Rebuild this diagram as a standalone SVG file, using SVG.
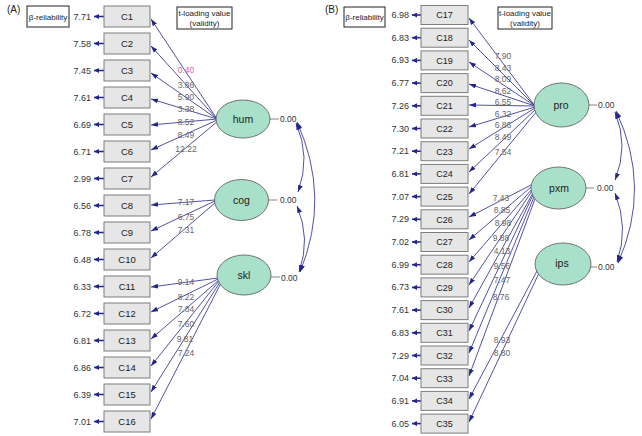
<svg xmlns="http://www.w3.org/2000/svg" width="642" height="436" viewBox="0 0 642 436">
<style>
text{font-family:"Liberation Sans",Arial,sans-serif}
.box{fill:#e6e6e6;stroke:#7d7d7d;stroke-width:1}
.lat{fill:#a9e0c9;stroke:#555;stroke-width:0.8}
.leg{fill:#fff;stroke:#222;stroke-width:1}
.lbl{font-size:9.5px;fill:#222;text-anchor:middle}
.lblb{font-size:9px;fill:#222;text-anchor:middle}
.rel{font-size:9px;fill:#333;text-anchor:end}
.ld{font-size:8.5px;fill:#666;text-anchor:middle}
.pk{fill:#e4619a}
.nl{font-size:10.5px;fill:#222;text-anchor:middle}
.zz{font-size:8.5px;fill:#333}
.lt{font-size:8px;fill:#222;text-anchor:middle}
.ln{stroke:#3d3d9e;stroke-width:0.9;fill:none;marker-end:url(#ah)}
.ra{stroke:#2a2a8c;stroke-width:1.6;marker-end:url(#ahs)}
.cv{stroke:#3d3d9e;stroke-width:0.9;fill:none;marker-start:url(#ah);marker-end:url(#ah)}
.st{stroke:#666;stroke-width:0.8}
</style>
<defs>
<marker id="ah" viewBox="0 0 10 7" refX="10" refY="3.5" markerWidth="7" markerHeight="4.9" markerUnits="userSpaceOnUse" orient="auto-start-reverse"><path d="M0,0 L10,3.5 L0,7 z" fill="#26268a"/></marker>
<marker id="ahs" viewBox="0 0 10 10" refX="10" refY="5" markerWidth="5" markerHeight="5" markerUnits="userSpaceOnUse" orient="auto"><path d="M0,0 L10,5 L0,10 z" fill="#26268a"/></marker>
</defs>
<rect width="642" height="436" fill="#fff"/>

<text x="7" y="13" font-size="10" fill="#222">(A)</text>
<text x="325" y="13" font-size="10" fill="#222">(B)</text>

<g id="legendA">
<rect class="leg" x="27" y="6" width="42" height="21"/>
<text class="lt" x="48" y="19.5">β-reliability</text>
<rect class="leg" x="177" y="7" width="55" height="22"/>
<text class="lt" x="204.5" y="16">t-loading value</text>
<text class="lt" x="204.5" y="25.5">(validity)</text>
</g>
<g id="legendB">
<rect class="leg" x="344" y="7" width="41" height="20"/>
<text class="lt" x="364.5" y="20">β-reliability</text>
<rect class="leg" x="498" y="7" width="54" height="22"/>
<text class="lt" x="525" y="16">t-loading value</text>
<text class="lt" x="525" y="25.5">(validity)</text>
</g>

<g id="connectors">
<!-- panel A loadings -->
<line class="ln" x1="217" y1="119" x2="151" y2="19"/>
<line class="ln" x1="217" y1="119" x2="151" y2="46"/>
<line class="ln" x1="217" y1="119" x2="151" y2="73"/>
<line class="ln" x1="217" y1="119" x2="151" y2="99"/>
<line class="ln" x1="217" y1="119" x2="151" y2="125"/>
<line class="ln" x1="217" y1="120" x2="151" y2="150"/>
<line class="ln" x1="218" y1="121" x2="151" y2="177"/>
<line class="ln" x1="215" y1="200" x2="151" y2="205"/>
<line class="ln" x1="215" y1="201" x2="151" y2="231"/>
<line class="ln" x1="216" y1="202" x2="151" y2="258"/>
<line class="ln" x1="218" y1="278" x2="151" y2="287"/>
<line class="ln" x1="218" y1="279" x2="151" y2="312"/>
<line class="ln" x1="219" y1="280" x2="151" y2="339"/>
<line class="ln" x1="219" y1="281" x2="151" y2="366"/>
<line class="ln" x1="220" y1="282" x2="151" y2="392"/>
<line class="ln" x1="221" y1="283" x2="151" y2="419"/>
<!-- panel B loadings -->
<line class="ln" x1="535" y1="106" x2="469" y2="18"/>
<line class="ln" x1="535" y1="106" x2="469" y2="40"/>
<line class="ln" x1="535" y1="106" x2="469" y2="62"/>
<line class="ln" x1="535" y1="106" x2="469" y2="84"/>
<line class="ln" x1="535" y1="106" x2="469" y2="105"/>
<line class="ln" x1="535" y1="107" x2="469" y2="127"/>
<line class="ln" x1="535" y1="108" x2="469" y2="149"/>
<line class="ln" x1="536" y1="109" x2="469" y2="172"/>
<line class="ln" x1="537" y1="111" x2="469" y2="194"/>
<line class="ln" x1="531" y1="185" x2="469" y2="217"/>
<line class="ln" x1="531" y1="187" x2="469" y2="240"/>
<line class="ln" x1="532" y1="189" x2="469" y2="262"/>
<line class="ln" x1="532" y1="191" x2="469" y2="285"/>
<line class="ln" x1="533" y1="193" x2="469" y2="308"/>
<line class="ln" x1="533" y1="195" x2="469" y2="331"/>
<line class="ln" x1="534" y1="197" x2="469" y2="353"/>
<line class="ln" x1="535" y1="199" x2="469" y2="376"/>
<line class="ln" x1="537" y1="271" x2="469" y2="399"/>
<line class="ln" x1="539" y1="273" x2="469" y2="422"/>
<!-- reliability arrows A -->
<line class="ra" x1="104" y1="16.5" x2="94" y2="16.5"/>
<line class="ra" x1="104" y1="43.5" x2="94" y2="43.5"/>
<line class="ra" x1="104" y1="70.5" x2="94" y2="70.5"/>
<line class="ra" x1="104" y1="97.5" x2="94" y2="97.5"/>
<line class="ra" x1="104" y1="124.5" x2="94" y2="124.5"/>
<line class="ra" x1="104" y1="151.5" x2="94" y2="151.5"/>
<line class="ra" x1="104" y1="178.5" x2="94" y2="178.5"/>
<line class="ra" x1="104" y1="205.5" x2="94" y2="205.5"/>
<line class="ra" x1="104" y1="232.5" x2="94" y2="232.5"/>
<line class="ra" x1="104" y1="259.5" x2="94" y2="259.5"/>
<line class="ra" x1="104" y1="286.5" x2="94" y2="286.5"/>
<line class="ra" x1="104" y1="313.5" x2="94" y2="313.5"/>
<line class="ra" x1="104" y1="340.5" x2="94" y2="340.5"/>
<line class="ra" x1="104" y1="367.5" x2="94" y2="367.5"/>
<line class="ra" x1="104" y1="394.5" x2="94" y2="394.5"/>
<line class="ra" x1="104" y1="421.5" x2="94" y2="421.5"/>
<!-- reliability arrows B -->
<line class="ra" x1="421" y1="15" x2="412" y2="15"/>
<line class="ra" x1="421" y1="37.7" x2="412" y2="37.7"/>
<line class="ra" x1="421" y1="60.4" x2="412" y2="60.4"/>
<line class="ra" x1="421" y1="83.1" x2="412" y2="83.1"/>
<line class="ra" x1="421" y1="105.8" x2="412" y2="105.8"/>
<line class="ra" x1="421" y1="128.5" x2="412" y2="128.5"/>
<line class="ra" x1="421" y1="151.2" x2="412" y2="151.2"/>
<line class="ra" x1="421" y1="173.9" x2="412" y2="173.9"/>
<line class="ra" x1="421" y1="196.6" x2="412" y2="196.6"/>
<line class="ra" x1="421" y1="219.3" x2="412" y2="219.3"/>
<line class="ra" x1="421" y1="242" x2="412" y2="242"/>
<line class="ra" x1="421" y1="264.7" x2="412" y2="264.7"/>
<line class="ra" x1="421" y1="287.4" x2="412" y2="287.4"/>
<line class="ra" x1="421" y1="310.1" x2="412" y2="310.1"/>
<line class="ra" x1="421" y1="332.8" x2="412" y2="332.8"/>
<line class="ra" x1="421" y1="355.5" x2="412" y2="355.5"/>
<line class="ra" x1="421" y1="378.2" x2="412" y2="378.2"/>
<line class="ra" x1="421" y1="400.9" x2="412" y2="400.9"/>
<line class="ra" x1="421" y1="423.6" x2="412" y2="423.6"/>
<!-- covariance arcs -->
<path class="cv" d="M296,123 Q311,157 298,192"/>
<path class="cv" d="M297,206 Q311,239 299,272"/>
<path class="cv" d="M297,122 Q331,197 300,272"/>
<path class="cv" d="M615,112 Q629,146 615,180"/>
<path class="cv" d="M615,193 Q629,228 617,262"/>
<path class="cv" d="M616,111 Q652,187 618,263"/>
<!-- stubs to 0.00 -->
<line class="st" x1="270" y1="119" x2="279" y2="119"/>
<line class="st" x1="268" y1="200" x2="277" y2="200"/>
<line class="st" x1="271" y1="277" x2="280" y2="277"/>
<line class="st" x1="589" y1="105" x2="597" y2="105"/>
<line class="st" x1="586" y1="188" x2="594" y2="188"/>
<line class="st" x1="591" y1="267" x2="597" y2="267"/>
</g>

<g id="loadings">
<text class="ld pk" x="186" y="73">0.40</text>
<text class="ld" x="186" y="88">3.86</text>
<text class="ld" x="186" y="100">5.90</text>
<text class="ld" x="186" y="112">3.38</text>
<text class="ld" x="186" y="125">8.52</text>
<text class="ld" x="186" y="138">8.49</text>
<text class="ld" x="186" y="152">12.22</text>
<text class="ld" x="186" y="205">7.17</text>
<text class="ld" x="186" y="220">6.75</text>
<text class="ld" x="186" y="233">7.31</text>
<text class="ld" x="186" y="285">9.14</text>
<text class="ld" x="186" y="300">8.22</text>
<text class="ld" x="186" y="312">7.84</text>
<text class="ld" x="186" y="327">7.60</text>
<text class="ld" x="185" y="342">9.81</text>
<text class="ld" x="186" y="356">7.24</text>
<text class="ld" x="503" y="59">7.90</text>
<text class="ld" x="503" y="71">8.43</text>
<text class="ld" x="503" y="82">8.09</text>
<text class="ld" x="503" y="94">8.62</text>
<text class="ld" x="503" y="105">6.55</text>
<text class="ld" x="503" y="117">6.32</text>
<text class="ld" x="503" y="128">6.86</text>
<text class="ld" x="503" y="140">8.49</text>
<text class="ld" x="503" y="155">7.54</text>
<text class="ld" x="501" y="201">7.43</text>
<text class="ld" x="502" y="213">8.85</text>
<text class="ld" x="503" y="226">8.98</text>
<text class="ld" x="501" y="241">9.88</text>
<text class="ld" x="502" y="254">4.13</text>
<text class="ld" x="502" y="269">9.56</text>
<text class="ld" x="502" y="283">7.47</text>
<text class="ld" x="501" y="300">8.76</text>
<text class="ld" x="502" y="343">8.93</text>
<text class="ld" x="502" y="356">8.80</text>
</g>

<g id="hum"><ellipse class="lat" cx="243" cy="119" rx="27" ry="19"/><text class="nl" x="243" y="122.5">hum</text><text class="zz" x="280" y="122">0.00</text></g>
<g id="cog"><ellipse class="lat" cx="241.5" cy="200" rx="27" ry="20.5"/><text class="nl" x="241.5" y="203.5">cog</text><text class="zz" x="280" y="203">0.00</text></g>
<g id="skl"><ellipse class="lat" cx="244" cy="275" rx="27" ry="20"/><text class="nl" x="244" y="278.5">skl</text><text class="zz" x="281" y="281">0.00</text></g>
<g id="pro"><ellipse class="lat" cx="561.5" cy="105" rx="27.5" ry="22"/><text class="nl" x="561" y="108.5">pro</text><text class="zz" x="598" y="108">0.00</text></g>
<g id="pxm"><ellipse class="lat" cx="558.5" cy="188" rx="27.5" ry="21"/><text class="nl" x="559" y="191.5">pxm</text><text class="zz" x="597" y="191">0.00</text></g>
<g id="ips"><ellipse class="lat" cx="563" cy="264" rx="28" ry="21"/><text class="nl" x="562" y="267">ips</text><text class="zz" x="598" y="270">0.00</text></g>

<g id="C1"><rect class="box" x="104" y="6" width="46" height="21"/><text class="lbl" x="127" y="20">C1</text><text class="rel" x="91" y="19.5">7.71</text></g>
<g id="C2"><rect class="box" x="104" y="33" width="46" height="21"/><text class="lbl" x="127" y="47">C2</text><text class="rel" x="91" y="46.5">7.58</text></g>
<g id="C3"><rect class="box" x="104" y="60" width="46" height="21"/><text class="lbl" x="127" y="74">C3</text><text class="rel" x="91" y="73.5">7.45</text></g>
<g id="C4"><rect class="box" x="104" y="87" width="46" height="21"/><text class="lbl" x="127" y="101">C4</text><text class="rel" x="91" y="100.5">7.61</text></g>
<g id="C5"><rect class="box" x="104" y="114" width="46" height="21"/><text class="lbl" x="127" y="128">C5</text><text class="rel" x="91" y="127.5">6.69</text></g>
<g id="C6"><rect class="box" x="104" y="141" width="46" height="21"/><text class="lbl" x="127" y="155">C6</text><text class="rel" x="91" y="154.5">6.71</text></g>
<g id="C7"><rect class="box" x="104" y="168" width="46" height="21"/><text class="lbl" x="127" y="182">C7</text><text class="rel" x="91" y="181.5">2.99</text></g>
<g id="C8"><rect class="box" x="104" y="195" width="46" height="21"/><text class="lbl" x="127" y="209">C8</text><text class="rel" x="91" y="208.5">6.56</text></g>
<g id="C9"><rect class="box" x="104" y="222" width="46" height="21"/><text class="lbl" x="127" y="236">C9</text><text class="rel" x="91" y="235.5">6.78</text></g>
<g id="C10"><rect class="box" x="104" y="249" width="46" height="21"/><text class="lbl" x="127" y="263">C10</text><text class="rel" x="91" y="262.5">6.48</text></g>
<g id="C11"><rect class="box" x="104" y="276" width="46" height="21"/><text class="lbl" x="127" y="290">C11</text><text class="rel" x="91" y="289.5">6.33</text></g>
<g id="C12"><rect class="box" x="104" y="303" width="46" height="21"/><text class="lbl" x="127" y="317">C12</text><text class="rel" x="91" y="316.5">6.72</text></g>
<g id="C13"><rect class="box" x="104" y="330" width="46" height="21"/><text class="lbl" x="127" y="344">C13</text><text class="rel" x="91" y="343.5">6.81</text></g>
<g id="C14"><rect class="box" x="104" y="357" width="46" height="21"/><text class="lbl" x="127" y="371">C14</text><text class="rel" x="91" y="370.5">6.86</text></g>
<g id="C15"><rect class="box" x="104" y="384" width="46" height="21"/><text class="lbl" x="127" y="398">C15</text><text class="rel" x="91" y="397.5">6.39</text></g>
<g id="C16"><rect class="box" x="104" y="411" width="46" height="21"/><text class="lbl" x="127" y="425">C16</text><text class="rel" x="91" y="424.5">7.01</text></g>

<g id="C17"><rect class="box" x="421" y="5.5" width="47" height="19"/><text class="lblb" x="444.5" y="18.3">C17</text><text class="rel" x="409" y="18">6.98</text></g>
<g id="C18"><rect class="box" x="421" y="28.2" width="47" height="19"/><text class="lblb" x="444.5" y="41">C18</text><text class="rel" x="409" y="40.7">6.83</text></g>
<g id="C19"><rect class="box" x="421" y="50.9" width="47" height="19"/><text class="lblb" x="444.5" y="63.7">C19</text><text class="rel" x="409" y="63.4">6.93</text></g>
<g id="C20"><rect class="box" x="421" y="73.6" width="47" height="19"/><text class="lblb" x="444.5" y="86.4">C20</text><text class="rel" x="409" y="86.1">6.77</text></g>
<g id="C21"><rect class="box" x="421" y="96.3" width="47" height="19"/><text class="lblb" x="444.5" y="109.1">C21</text><text class="rel" x="409" y="108.8">7.26</text></g>
<g id="C22"><rect class="box" x="421" y="119" width="47" height="19"/><text class="lblb" x="444.5" y="131.8">C22</text><text class="rel" x="409" y="131.5">7.30</text></g>
<g id="C23"><rect class="box" x="421" y="141.7" width="47" height="19"/><text class="lblb" x="444.5" y="154.5">C23</text><text class="rel" x="409" y="154.2">7.21</text></g>
<g id="C24"><rect class="box" x="421" y="164.4" width="47" height="19"/><text class="lblb" x="444.5" y="177.2">C24</text><text class="rel" x="409" y="176.9">6.81</text></g>
<g id="C25"><rect class="box" x="421" y="187.1" width="47" height="19"/><text class="lblb" x="444.5" y="199.9">C25</text><text class="rel" x="409" y="199.6">7.07</text></g>
<g id="C26"><rect class="box" x="421" y="209.8" width="47" height="19"/><text class="lblb" x="444.5" y="222.6">C26</text><text class="rel" x="409" y="222.3">7.29</text></g>
<g id="C27"><rect class="box" x="421" y="232.5" width="47" height="19"/><text class="lblb" x="444.5" y="245.3">C27</text><text class="rel" x="409" y="245">7.02</text></g>
<g id="C28"><rect class="box" x="421" y="255.2" width="47" height="19"/><text class="lblb" x="444.5" y="268">C28</text><text class="rel" x="409" y="267.7">6.99</text></g>
<g id="C29"><rect class="box" x="421" y="277.9" width="47" height="19"/><text class="lblb" x="444.5" y="290.7">C29</text><text class="rel" x="409" y="290.4">6.73</text></g>
<g id="C30"><rect class="box" x="421" y="300.6" width="47" height="19"/><text class="lblb" x="444.5" y="313.4">C30</text><text class="rel" x="409" y="313.1">7.61</text></g>
<g id="C31"><rect class="box" x="421" y="323.3" width="47" height="19"/><text class="lblb" x="444.5" y="336.1">C31</text><text class="rel" x="409" y="335.8">6.83</text></g>
<g id="C32"><rect class="box" x="421" y="346" width="47" height="19"/><text class="lblb" x="444.5" y="358.8">C32</text><text class="rel" x="409" y="358.5">7.29</text></g>
<g id="C33"><rect class="box" x="421" y="368.7" width="47" height="19"/><text class="lblb" x="444.5" y="381.5">C33</text><text class="rel" x="409" y="381.2">7.04</text></g>
<g id="C34"><rect class="box" x="421" y="391.4" width="47" height="19"/><text class="lblb" x="444.5" y="404.2">C34</text><text class="rel" x="409" y="403.9">6.91</text></g>
<g id="C35"><rect class="box" x="421" y="414.1" width="47" height="19"/><text class="lblb" x="444.5" y="426.9">C35</text><text class="rel" x="409" y="426.6">6.05</text></g>
</svg>
